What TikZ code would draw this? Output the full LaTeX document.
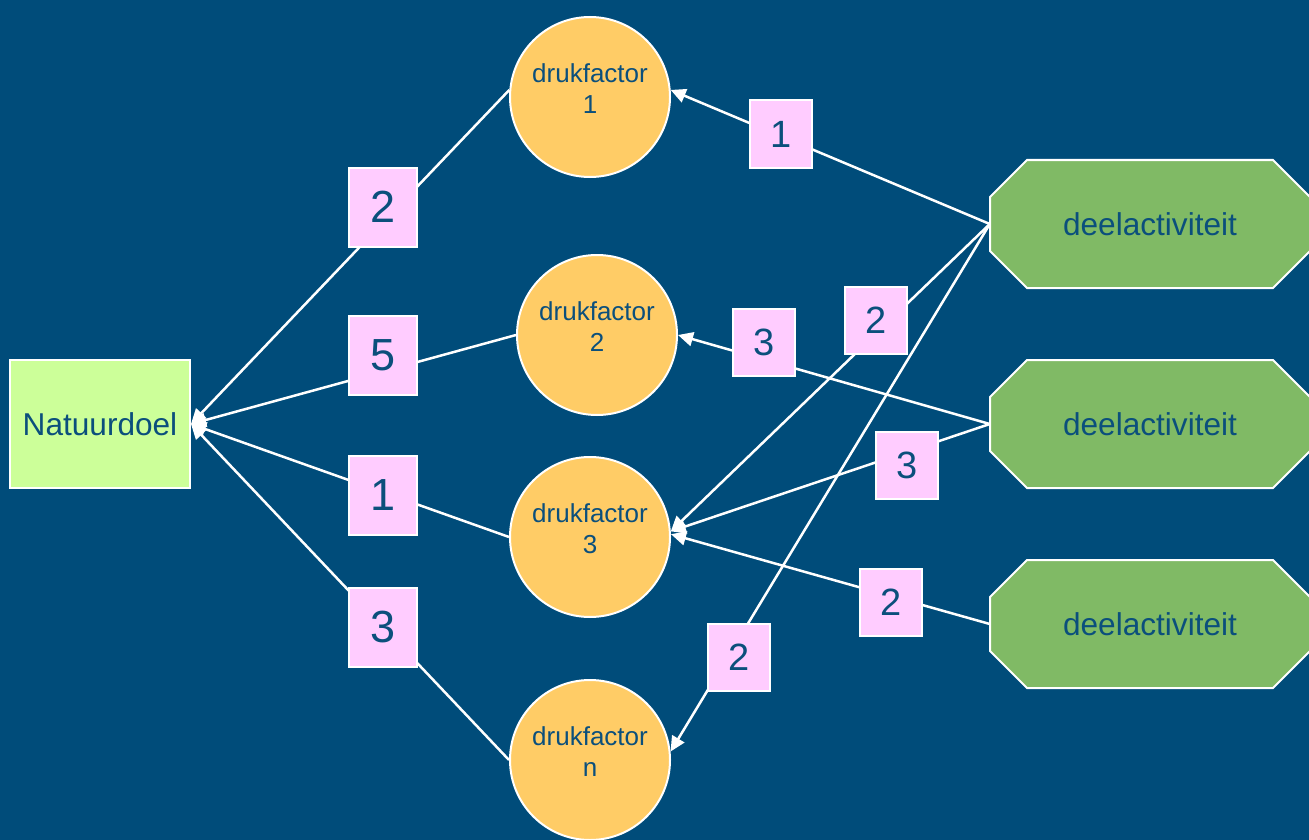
\documentclass[tikz,border=0pt]{standalone}
\usepackage{fontspec}
\setmainfont{Liberation Sans}
\usetikzlibrary{arrows.meta}
\definecolor{bg}{HTML}{004C7A}
\definecolor{txt}{HTML}{0B4F7C}
\definecolor{goal}{HTML}{CCFF99}
\definecolor{factor}{HTML}{FFCC66}
\definecolor{act}{HTML}{80BA65}
\definecolor{wt}{HTML}{FFCCFF}
\newcommand{\octoshape}[2]{%
  \draw[draw=white,line width=2pt,fill=act]
    (#1-160,#2-27) -- (#1-123,#2-64) -- (#1+123,#2-64) -- (#1+160,#2-27)
    -- (#1+160,#2+27) -- (#1+123,#2+64) -- (#1-123,#2+64) -- (#1-160,#2+27) -- cycle;}
\begin{document}
\begin{tikzpicture}[x=1pt,y=-1pt,
  goalbox/.style={rectangle,draw=white,line width=2pt,fill=goal,text=txt,
    minimum width=180pt,minimum height=128pt,inner sep=0pt,font=\fontsize{31.6}{38}\selectfont},
  factorbox/.style={circle,draw=white,line width=2pt,fill=factor,text=txt,
    minimum size=160pt,inner sep=0pt,align=center,text depth=16pt,font=\fontsize{26}{31}\selectfont},
  actbox/.style={rectangle,draw=none,text=txt,minimum width=320pt,minimum height=128pt,
    inner sep=0pt,font=\fontsize{31.6}{38}\selectfont},
  wbig/.style={rectangle,draw=white,line width=2pt,fill=wt,text=txt,
    minimum width=68pt,minimum height=79pt,inner sep=0pt,font=\fontsize{45}{50}\selectfont},
  wsmall/.style={rectangle,draw=white,line width=2pt,fill=wt,text=txt,
    minimum width=62pt,minimum height=67pt,inner sep=0pt,font=\fontsize{38}{44}\selectfont},
  conn/.style={draw=white,line width=2.5pt,-{Triangle[length=15pt,width=14pt]}}]
\useasboundingbox[fill=bg] (0,0) rectangle (1309,840);
% nodes
\node[goalbox] (nat) at (100,424) {Natuurdoel};
\node[factorbox] (c1) at (590,97) {drukfactor\\1};
\node[factorbox] (c2) at (597,335) {drukfactor\\2};
\node[factorbox] (c3) at (590,537) {drukfactor\\3};
\node[factorbox] (c4) at (590,760) {drukfactor\\n};
\octoshape{1150}{224}
\octoshape{1150}{424}
\octoshape{1150}{624}
\node[actbox] (d1) at (1150,224) {deelactiviteit};
\node[actbox] (d2) at (1150,424) {deelactiviteit};
\node[actbox] (d3) at (1150,624) {deelactiviteit};
% connectors
\draw[conn] (c1.175) -- (nat.east);
\draw[conn] (c2.west) -- (nat.east);
\draw[conn] (c3.west) -- (nat.east);
\draw[conn] (c4.west) -- (nat.east);
\draw[conn] (d1.west) -- (c1.5);
\draw[conn] (d1.west) -- (c3.4);
\draw[conn] (d1.west) -- (c4.6);
\draw[conn] (d2.west) -- (c2.east);
\draw[conn] (d2.west) -- (c3.4);
\draw[conn] (d3.west) -- (c3.2);
% weights
\node[wbig] (w1) at (383,207) {2};
\node[wbig] (w2) at (383,355) {5};
\node[wbig] (w3) at (383,495) {1};
\node[wbig] (w4) at (383,627) {3};
\node[wsmall] (w5) at (781,134) {1};
\node[wsmall] (w6) at (764,342) {3};
\node[wsmall] (w7) at (876,320) {2};
\node[wsmall] (w8) at (907,465) {3};
\node[wsmall] (w9) at (891,602) {2};
\node[wsmall] (w10) at (739,657) {2};
\end{tikzpicture}
\end{document}
